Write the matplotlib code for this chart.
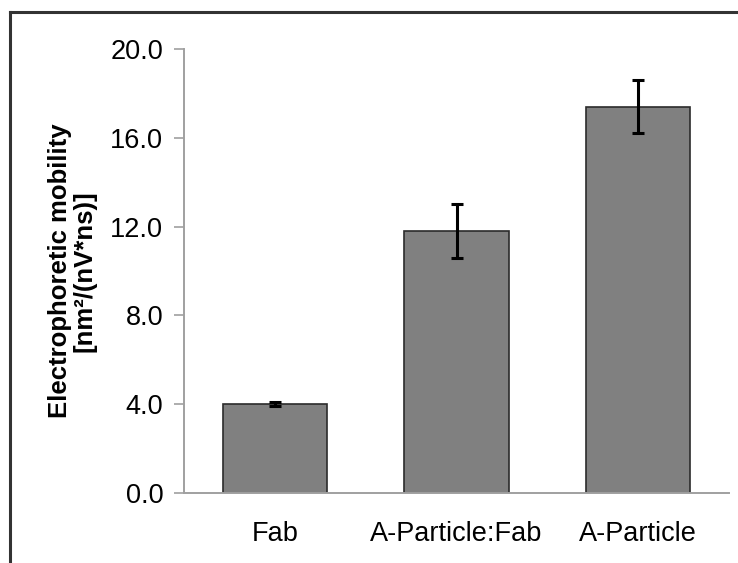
import matplotlib
matplotlib.use("Agg")
import matplotlib.pyplot as plt
from matplotlib.lines import Line2D

# data
categories = ["Fab", "A-Particle:Fab", "A-Particle"]
mobility = [4.0, 11.8, 17.4]
errors = [0.1, 1.2, 1.2]
yticks = [0.0, 4.0, 8.0, 12.0, 16.0, 20.0]

plt.rcParams['font.family'] = ['Liberation Sans', 'DejaVu Sans']

W, H = 738, 563
fig = plt.figure(figsize=(W / 100, H / 100), dpi=100)
ax = fig.add_axes([184 / W, 1 - 493 / H, (729 - 184) / W, (493 - 49) / H])

x = list(range(len(categories)))
ax.bar(x, mobility, width=0.573, color="#808080", edgecolor="#2b2b2b", linewidth=1.2, zorder=2)
ax.errorbar(x, mobility, yerr=errors, fmt="none", ecolor="black",
            elinewidth=2.2, capsize=4.5, capthick=2.2, zorder=3)

ax.set_xlim(-0.5, 2.5)
ax.set_ylim(0, 20)
ax.set_yticks(yticks)
ax.set_yticklabels(["%.1f" % v for v in yticks], fontsize=19.5)
ax.set_xticks(x)
ax.set_xticklabels(categories, fontsize=19.5)
ax.tick_params(axis="x", length=0, pad=20)
ax.tick_params(axis="y", length=7, width=1.2, color="#a0a0a0", pad=8)

for s in ["top", "right"]:
    ax.spines[s].set_visible(False)
for s in ["left", "bottom"]:
    ax.spines[s].set_color("#a0a0a0")
    ax.spines[s].set_linewidth(1.4)

ax.set_ylabel("Electrophoretic mobility\n[nm²/(nV*ns)]", fontsize=18.5,
              fontweight="bold", linespacing=1.0, labelpad=10)

# outer frame (left and top edge visible)
fig.add_artist(Line2D([9.5 / W, 9.5 / W], [0, 1 - 11.5 / H], color="#333333", lw=2.2))
fig.add_artist(Line2D([9.5 / W, 1], [1 - 11.5 / H, 1 - 11.5 / H], color="#333333", lw=2.2))

fig.savefig("out.png", dpi=100)
